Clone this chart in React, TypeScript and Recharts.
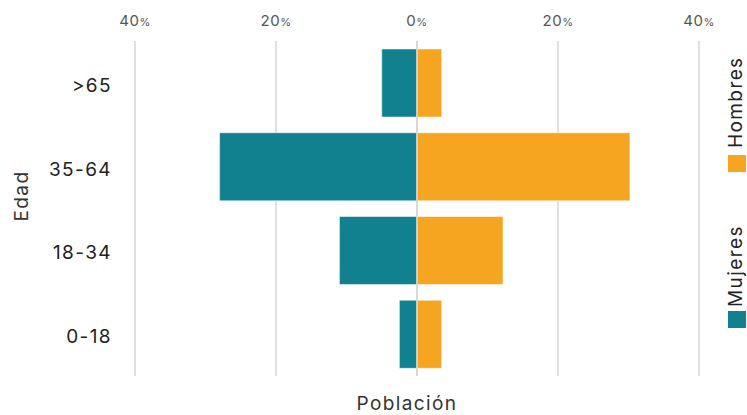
import React from 'react';
import { BarChart, Bar, XAxis, YAxis, CartesianGrid, ReferenceLine } from 'recharts';

// age groups, top to bottom
const ageGroups = ['>65', '35-64', '18-34', '0-18'];
// share of population (%)
const mujeres = [5.0, 28.0, 11.0, 2.5];
const hombres = [3.5, 30.2, 12.2, 3.5];
const xTicks = [-40, -20, 0, 20, 40];

const TEAL = '#11808f';
const ORANGE = '#f6a521';
const GRID = '#d6d6d6';
const FONT = 'Inter, "Open Sans", sans-serif';
const SPACING = 1.4;

const W = 747;
const H = 415;

const data = ageGroups.map((age, i) => ({
  age,
  mujeres: -mujeres[i],
  hombres: hombres[i],
}));

const series = [
  { key: 'mujeres', name: 'Mujeres', color: TEAL },
  { key: 'hombres', name: 'Hombres', color: ORANGE },
];

// legend: text start (bottom) and swatch top, per series
const legendSlots = [
  { textY: 307, boxY: 311 },
  { textY: 148, boxY: 155 },
];

const PctTick = (props: any) => {
  const { x, y, payload } = props;
  return (
    <text x={x} y={y} textAnchor="middle" fill="#555" fontFamily={FONT} letterSpacing={0.5}>
      <tspan fontSize={15}>{Math.abs(payload.value)}</tspan>
      <tspan fontSize={11}>%</tspan>
    </text>
  );
};

const AgeTick = (props: any) => {
  const { x, y, payload } = props;
  return (
    <text
      x={x}
      y={y}
      dy={9}
      textAnchor="end"
      fill="#222"
      fontSize={19}
      fontFamily={FONT}
      letterSpacing={SPACING}
    >
      {payload.value}
    </text>
  );
};

export default function App() {
  return (
    <div style={{ position: 'absolute', left: 0, top: 0, width: W, height: H, background: '#fff' }}>
      <BarChart
        width={W}
        height={H}
        data={data}
        layout="vertical"
        stackOffset="sign"
        margin={{ top: 0, right: 48, bottom: 39, left: 0 }}
      >
        <CartesianGrid horizontal={false} stroke={GRID} strokeWidth={1.5} />
        <XAxis
          type="number"
          orientation="top"
          domain={[-40, 40]}
          ticks={xTicks}
          height={41}
          axisLine={false}
          tickLine={false}
          tickSize={0}
          tickMargin={15}
          tick={<PctTick />}
        />
        <YAxis
          type="category"
          dataKey="age"
          width={135}
          axisLine={false}
          tickLine={false}
          tickSize={0}
          tickMargin={23}
          tick={<AgeTick />}
        />
        {series.map((s) => (
          <Bar
            key={s.key}
            dataKey={s.key}
            name={s.name}
            stackId="pop"
            fill={s.color}
            stroke="#ffffff"
            strokeOpacity={0.5}
            barSize={68}
            isAnimationActive={false}
          />
        ))}
        <ReferenceLine x={0} stroke={GRID} strokeWidth={1.5} />
      </BarChart>
      <svg
        width={W}
        height={H}
        style={{ position: 'absolute', left: 0, top: 0, pointerEvents: 'none' }}
      >
        <text
          x={407}
          y={410}
          textAnchor="middle"
          fill="#333"
          fontSize={19}
          fontFamily={FONT}
          letterSpacing={SPACING}
        >
          Población
        </text>
        <text
          transform="translate(28,196) rotate(-90)"
          textAnchor="middle"
          fill="#333"
          fontSize={19}
          fontFamily={FONT}
          letterSpacing={SPACING}
        >
          Edad
        </text>
        {series.map((s, i) => (
          <g key={s.key}>
            <text
              transform={`translate(742,${legendSlots[i].textY}) rotate(-90)`}
              fill="#222"
              fontSize={19}
              fontFamily={FONT}
              letterSpacing={SPACING}
            >
              {s.name}
            </text>
            <rect x={728} y={legendSlots[i].boxY} width={18} height={17} fill={s.color} />
          </g>
        ))}
      </svg>
    </div>
  );
}
